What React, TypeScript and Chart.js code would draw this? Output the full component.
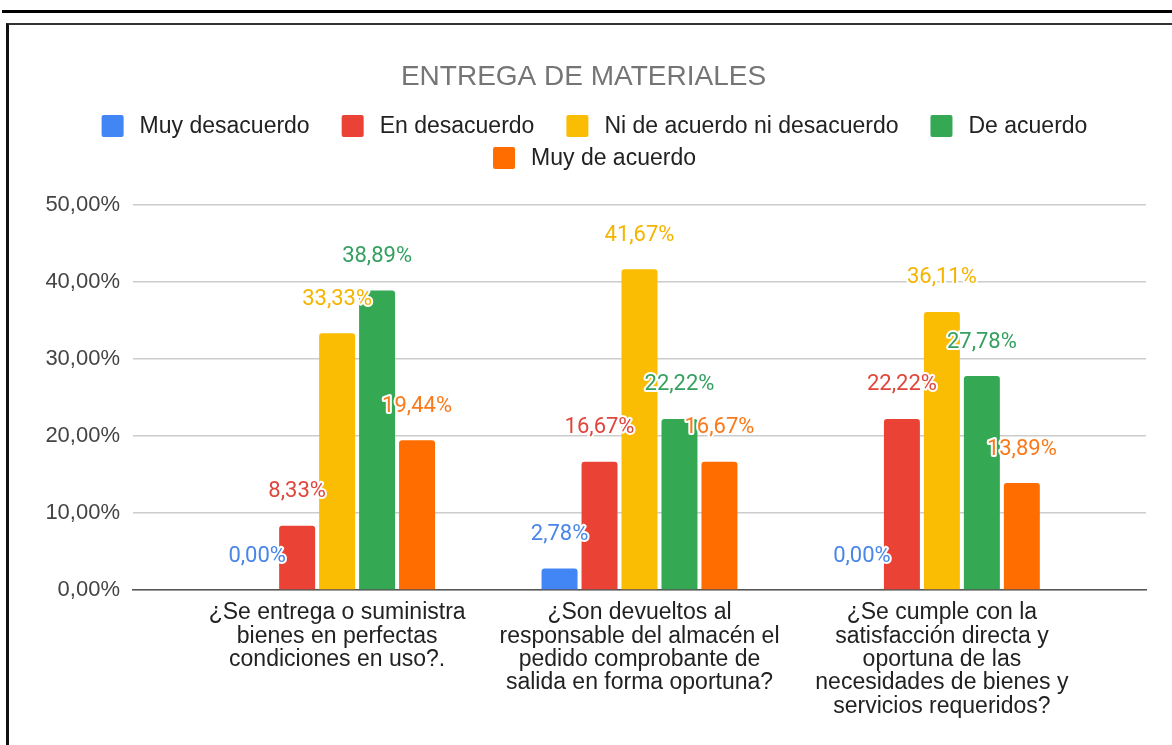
import React, { useEffect, useRef } from 'react';
import { Chart, registerables } from 'chart.js';

Chart.register(...registerables);

// ---------- data ----------
const TITLE = 'ENTREGA DE MATERIALES';
const categories: string[][] = [
  ['¿Se entrega o suministra', 'bienes en perfectas', 'condiciones en uso?.'],
  ['¿Son devueltos al', 'responsable del almacén el', 'pedido comprobante de', 'salida en forma oportuna?'],
  ['¿Se cumple con la', 'satisfacción directa y', 'oportuna de las', 'necesidades de bienes y', 'servicios requeridos?'],
];
const seriesNames = ['Muy desacuerdo', 'En desacuerdo', 'Ni de acuerdo ni desacuerdo', 'De acuerdo', 'Muy de acuerdo'];
const muyDesacuerdo = [0.0, 2.78, 0.0];
const enDesacuerdo = [8.33, 16.67, 22.22];
const niDeAcuerdoNiDesacuerdo = [33.33, 41.67, 36.11];
const deAcuerdo = [38.89, 22.22, 27.78];
const muyDeAcuerdo = [19.44, 16.67, 13.89];
const yTickValues = [0, 10, 20, 30, 40, 50];

const seriesValues = [muyDesacuerdo, enDesacuerdo, niDeAcuerdoNiDesacuerdo, deAcuerdo, muyDeAcuerdo];

// ---------- styles ----------
const barColors = ['#4285F4', '#EA4335', '#FBBC04', '#34A853', '#FF6D01'];
const labelColors = ['#4a86e8', '#e0463b', '#f4b400', '#35a060', '#f97a1c'];
const SANS = "'Liberation Sans', Arial, sans-serif";

const fmt = (v: number) => v.toFixed(2).replace('.', ',') + '%';

const labelsPlugin = {
  id: 'valueLabels',
  afterDatasetsDraw(chart: any) {
    const ctx = chart.ctx;
    ctx.save();
    ctx.font = '22px Roboto';
    ctx.textAlign = 'center';
    ctx.textBaseline = 'middle';
    ctx.lineJoin = 'round';
    chart.data.datasets.forEach((_ds: any, i: number) => {
      const meta = chart.getDatasetMeta(i);
      meta.data.forEach((el: any, j: number) => {
        const txt = fmt(seriesValues[i][j]);
        const x = el.x;
        const y = el.y - 34;
        ctx.lineWidth = 4;
        ctx.strokeStyle = '#ffffff';
        ctx.strokeText(txt, x, y);
        ctx.fillStyle = labelColors[i];
        ctx.fillText(txt, x, y);
      });
    });
    ctx.restore();
  },
};

const headerPlugin = {
  id: 'header',
  afterDraw(chart: any) {
    const ctx = chart.ctx;
    const W = chart.width;
    ctx.save();
    // title
    ctx.font = `28px ${SANS}`;
    ctx.fillStyle = '#757575';
    ctx.textAlign = 'center';
    ctx.textBaseline = 'middle';
    ctx.fillText(TITLE, W / 2 - 7, 52);

    // legend
    const box = 22;
    const gapText = 16;
    const gapItem = 32;
    const maxRow = 1010;
    ctx.font = `23px ${SANS}`;
    const items = seriesNames.map((name, i) => ({
      name,
      color: barColors[i],
      w: box + gapText + ctx.measureText(name).width,
    }));
    const rows: any[][] = [];
    let cur: any[] = [];
    let curW = 0;
    items.forEach((it) => {
      const add = cur.length ? gapItem + it.w : it.w;
      if (cur.length && curW + add > maxRow) {
        rows.push(cur);
        cur = [it];
        curW = it.w;
      } else {
        cur.push(it);
        curW += add;
      }
    });
    if (cur.length) rows.push(cur);
    const rowY = [101, 133];
    const cx = W / 2 + 4;
    rows.forEach((row, r) => {
      const total = row.reduce((s, it, k) => s + it.w + (k ? gapItem : 0), 0);
      let x = cx - total / 2;
      const y = rowY[r] ?? 101 + r * 32;
      row.forEach((it) => {
        ctx.fillStyle = it.color;
        ctx.beginPath();
        (ctx as any).roundRect(x, y - box / 2, box, box, 2);
        ctx.fill();
        ctx.fillStyle = '#222222';
        ctx.textAlign = 'left';
        ctx.textBaseline = 'middle';
        ctx.fillText(it.name, x + box + gapText, y + 1);
        x += it.w + gapItem;
      });
    });
    ctx.restore();
  },
};

export default function App() {
  const canvasRef = useRef<HTMLCanvasElement | null>(null);

  useEffect(() => {
    if (!canvasRef.current) return;
    const chart = new Chart(canvasRef.current, {
      type: 'bar',
      data: {
        datasets: seriesValues.map((vals, i) => ({
          label: seriesNames[i],
          data: vals.map((v, j) => ({ x: j, y: v })),
          backgroundColor: barColors[i],
          borderRadius: { topLeft: 3, topRight: 3, bottomLeft: 0, bottomRight: 0 },
          borderSkipped: 'bottom',
          categoryPercentage: 0.661,
          barPercentage: 0.9,
        })) as any,
      },
      options: {
        responsive: false,
        animation: false,
        layout: { padding: { top: 180, right: 26, left: 0, bottom: 0 } },
        plugins: {
          legend: { display: false },
          title: { display: false },
          tooltip: { enabled: false },
        },
        scales: {
          x: {
            type: 'linear',
            offset: false,
            min: -0.675,
            max: 2.675,
            afterBuildTicks: (s: any) => {
              s.ticks = categories.map((_c, i) => ({ value: i }));
            },
            afterFit: (s: any) => {
              s.height = 155;
            },
            grid: { display: false, drawTicks: false, offset: false },
            border: { display: true, color: '#555555', width: 1.5 },
            ticks: {
              padding: 11,
              autoSkip: false,
              maxRotation: 0,
              minRotation: 0,
              color: '#222222',
              font: { family: SANS, size: 23, lineHeight: 1.02 },
              callback: (v: any) => categories[v as number] ?? '',
            },
          },
          y: {
            min: 0,
            max: 50,
            afterBuildTicks: (s: any) => {
              s.ticks = yTickValues.map((v) => ({ value: v }));
            },
            afterFit: (s: any) => {
              s.width = 124;
            },
            grid: { color: '#cccccc', lineWidth: 1.5, drawTicks: false },
            border: { display: false },
            ticks: {
              padding: 13,
              color: '#444444',
              font: { family: SANS, size: 22 },
              callback: (v: any) => fmt(Number(v)),
            },
          },
        },
      } as any,
      plugins: [labelsPlugin, headerPlugin],
    });
    return () => chart.destroy();
  }, []);

  return (
    <div
      style={{
        position: 'fixed',
        left: 0,
        top: 0,
        width: 1172,
        height: 745,
        background: '#ffffff',
        overflow: 'hidden',
      }}
    >
      <div style={{ position: 'absolute', left: 2, top: 10, width: 1170, height: 3, background: '#000' }} />
      <div
        style={{
          position: 'absolute',
          left: 6,
          top: 23,
          width: 1166,
          height: 722,
          borderLeft: '3px solid #111',
          borderTop: '2px solid #333',
          boxSizing: 'border-box',
        }}
      />
      <canvas
        ref={canvasRef}
        width={1163}
        height={720}
        style={{ position: 'absolute', left: 9, top: 25, display: 'block' }}
      />
    </div>
  );
}
